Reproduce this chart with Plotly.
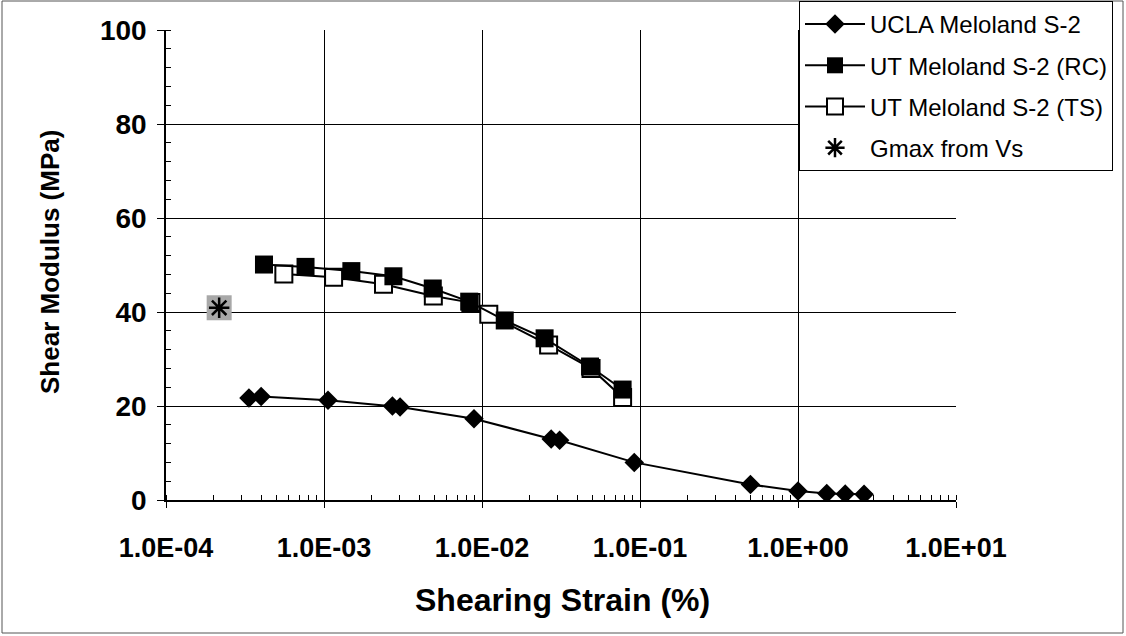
import plotly.graph_objects as go

# UCLA Meloland S-2
ucla_x = [3.35e-4, 4.0e-4, 1.06e-3, 2.71e-3, 3.03e-3, 8.9e-3, 0.0274, 0.031, 0.092, 0.5, 1.0, 1.52, 1.99, 2.62]
ucla_y = [21.7, 22.0, 21.2, 20.0, 19.8, 17.3, 13.0, 12.7, 8.0, 3.3, 1.9, 1.4, 1.3, 1.2]

# UT Meloland S-2 (RC)
rc_x = [4.17e-4, 7.64e-4, 1.49e-3, 2.75e-3, 4.88e-3, 8.3e-3, 0.01393, 0.0249, 0.0483, 0.0776]
rc_y = [50.1, 49.6, 48.7, 47.6, 45.0, 42.2, 38.2, 34.4, 28.4, 23.5]

# UT Meloland S-2 (TS)
ts_x = [5.57e-4, 1.15e-3, 2.38e-3, 4.92e-3, 8.5e-3, 0.01104, 0.0264, 0.049, 0.0776]
ts_y = [48.1, 47.4, 45.9, 43.4, 42.0, 39.5, 33.0, 28.0, 21.8]

# Gmax from Vs
gmax_x = [2.17e-4]
gmax_y = [40.9]

x_tickvals = [1e-4, 1e-3, 1e-2, 1e-1, 1e0, 1e1]
x_ticktext = ["1.0E-04", "1.0E-03", "1.0E-02", "1.0E-01", "1.0E+00", "1.0E+01"]
y_tickvals = [0, 20, 40, 60, 80, 100]

FONT = "Liberation Sans, Arial, sans-serif"

fig = go.Figure()
fig.add_trace(go.Scatter(
    x=ucla_x, y=ucla_y, mode="lines+markers", name="UCLA Meloland S-2",
    line=dict(color="black", width=2),
    marker=dict(symbol="diamond", size=15, color="black"),
    legendgroup="a", legendrank=1))
fig.add_trace(go.Scatter(
    x=ts_x, y=ts_y, mode="lines+markers", name="UT Meloland S-2 (TS)",
    line=dict(color="black", width=2),
    marker=dict(symbol="square", size=17, color="white", line=dict(color="black", width=2)),
    legendgroup="c", legendrank=3))
fig.add_trace(go.Scatter(
    x=rc_x, y=rc_y, mode="lines+markers", name="UT Meloland S-2 (RC)",
    line=dict(color="black", width=2),
    marker=dict(symbol="square", size=18, color="black"),
    legendgroup="b", legendrank=2))
fig.add_trace(go.Scatter(
    x=gmax_x, y=gmax_y, mode="markers", showlegend=False,
    marker=dict(symbol="square", size=25, color="#a8a8a8"),
    hoverinfo="skip"))
fig.add_trace(go.Scatter(
    x=gmax_x, y=gmax_y, mode="markers", name="Gmax from Vs",
    marker=dict(symbol="asterisk-open", size=17, color="black", line=dict(color="black", width=2.5)),
    legendgroup="d", legendrank=4))

L, R, T, B = 166, 170, 30, 136
W, H = 1126, 636
pw, ph = W - L - R, H - T - B

def px(x):
    return (x - L) / pw

def py(y):
    return (H - B - y) / ph

fig.update_layout(
    width=W, height=H,
    margin=dict(l=L, r=R, t=T, b=B, autoexpand=False),
    paper_bgcolor="white", plot_bgcolor="white",
    font=dict(family=FONT, color="black"),
    showlegend=True,
    legend=dict(
        x=799 / W, y=1 - 1 / H, xref="container", yref="container",
        xanchor="left", yanchor="top",
        bgcolor="white", bordercolor="black", borderwidth=1,
        font=dict(size=24, family=FONT, color="black"),
        tracegroupgap=7, itemwidth=60,
    ),
    xaxis=dict(
        type="log", range=[-4, 1], automargin=False,
        tickvals=x_tickvals, ticktext=x_ticktext,
        tickfont=dict(size=27, family=FONT, color="black", weight="bold"),
        showgrid=True, gridcolor="black", gridwidth=1,
        showline=True, linecolor="black", linewidth=1.5,
        ticks="outside", ticklen=6, tickcolor="black",
        ticklabelstandoff=17,
        minor=dict(ticks="inside", ticklen=5, tickcolor="black", dtick="D1", showgrid=False),
        zeroline=False,
    ),
    yaxis=dict(
        range=[0, 100], automargin=False,
        tickvals=y_tickvals,
        tickfont=dict(size=28, family=FONT, color="black", weight="bold"),
        showgrid=True, gridcolor="black", gridwidth=1,
        showline=True, linecolor="black", linewidth=1.5,
        ticks="outside", ticklen=7, tickcolor="black",
        ticklabelstandoff=5,
        minor=dict(ticks="inside", ticklen=5, tickcolor="black", dtick=4, showgrid=False),
        zeroline=False,
    ),
    annotations=[
        dict(text="<b>Shearing Strain (%)</b>", x=px(562), y=py(600), xref="paper", yref="paper",
             showarrow=False, font=dict(size=32, family=FONT, color="black"),
             xanchor="center", yanchor="middle"),
        dict(text="<b>Shear Modulus (MPa)</b>", x=px(50), y=py(262), xref="paper", yref="paper",
             showarrow=False, font=dict(size=26, family=FONT, color="black"), textangle=-90,
             xanchor="center", yanchor="middle"),
    ],
    shapes=[
        dict(type="rect", xref="paper", yref="paper",
             x0=px(2), x1=px(1123), y0=py(633), y1=py(1),
             line=dict(color="#555555", width=1), fillcolor="rgba(0,0,0,0)", layer="below"),
    ],
)

fig.write_html("out.html", config={"displayModeBar": False},
               post_script="document.body.style.margin='0';")
